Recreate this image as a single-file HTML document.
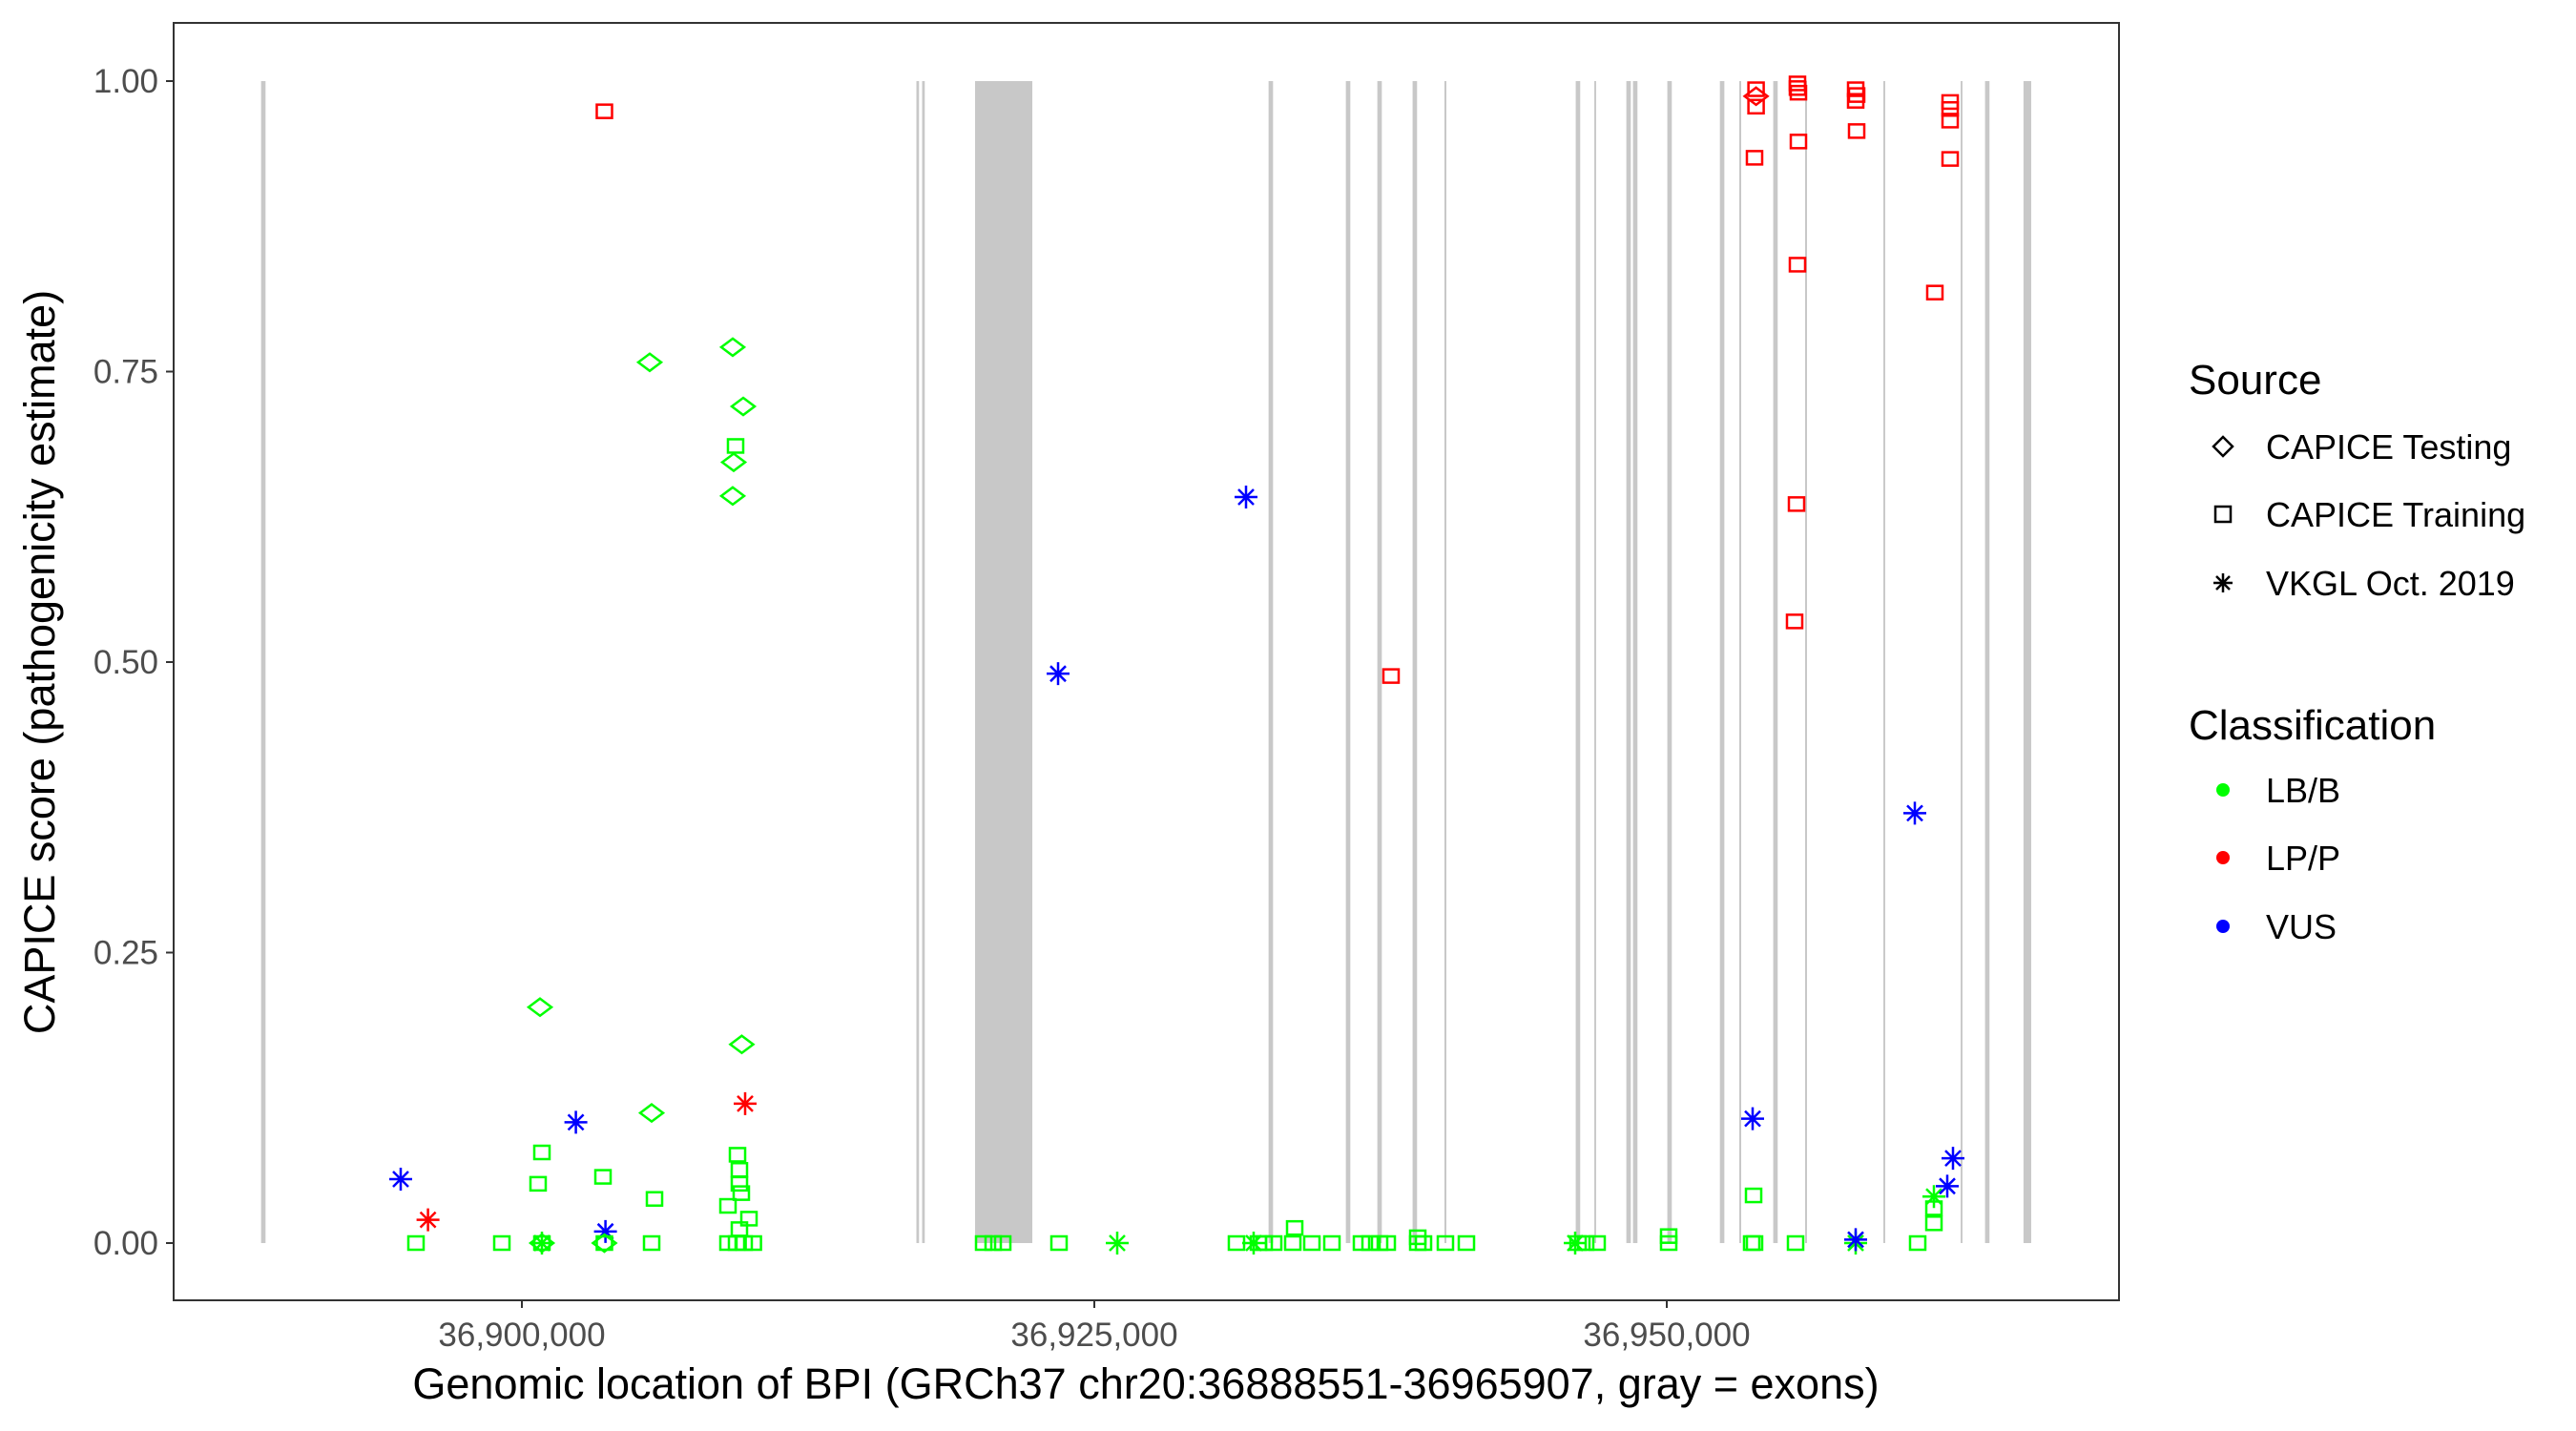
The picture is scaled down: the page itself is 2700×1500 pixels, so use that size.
<!DOCTYPE html>
<html><head><meta charset="utf-8"><style>
html,body{margin:0;padding:0;background:#fff;}
svg{display:block;font-family:"Liberation Sans",Arial,sans-serif;}
</style></head><body>
<svg id="chart" width="2700" height="1500" viewBox="0 0 2700 1500" xmlns="http://www.w3.org/2000/svg">
<rect x="0" y="0" width="2700" height="1500" fill="#fff"/>
<g id="exons"></g>
<g id="points"></g>
<rect x="182" y="24" width="2039" height="1339" fill="none" stroke="#333" stroke-width="2"/>
<g id="yaxis"></g>
<g id="xaxis"></g>
<text x="0" y="0" transform="translate(57,694) rotate(-90)" text-anchor="middle" font-size="45" fill="#000">CAPICE score (pathogenicity estimate)</text>
<text x="1201" y="1466" text-anchor="middle" font-size="45" fill="#000">Genomic location of BPI (GRCh37 chr20:36888551-36965907, gray = exons)</text>
<g>
<text x="2294" y="413" font-size="44" fill="#000">Source</text>
<g>
<path d="M2330 458 L2340 468 L2330 478 L2320 468 Z" fill="none" stroke="#000" stroke-width="2.5"/>
<text x="2375" y="481" font-size="36">CAPICE Testing</text></g>
<g>
<rect x="2322" y="531" width="16" height="16" fill="none" stroke="#000" stroke-width="2.5"/>
<text x="2375" y="552" font-size="36">CAPICE Training</text></g>
<g>
<path d="M2320 611 H2340 M2330 601 V621 M2323 604 L2337 618 M2337 604 L2323 618" stroke="#000" stroke-width="2.5"/>
<text x="2375" y="624" font-size="36">VKGL Oct. 2019</text></g>
<text x="2294" y="775" font-size="44" fill="#000">Classification</text>
<g><circle cx="2330" cy="828" r="7" fill="#00ff00"/><text x="2375" y="841" font-size="36">LB/B</text></g>
<g><circle cx="2330" cy="899" r="7" fill="#ff0000"/><text x="2375" y="912" font-size="36">LP/P</text></g>
<g><circle cx="2330" cy="971" r="7" fill="#0000ff"/><text x="2375" y="984" font-size="36">VUS</text></g>
</g>
</svg>
<script>
const exonStarts=[-11390,17230,17480,19792,32610,35985,37360,38900,40290,46025,46835,48235,48525,50025,52320,53165,54650,56040,59460,62835,63900,65580];
const exonEnds=[-11195,17345,17595,22292,32805,36180,37555,39095,40375,46220,46915,48430,48720,50220,52515,53250,54845,56125,59540,62915,64095,65915];
const yTicks=[0,0.25,0.5,0.75,1];
const yTickLabels=["0.00","0.25","0.50","0.75","1.00"];
const xTicks=[36900000,36925000,36950000];
const xTickLabels=["36,900,000","36,925,000","36,950,000"];
const posOffset=[3604,5583,9208,9667,9333,9250,9208,792,9604,9750,2358,5667,875,708,3542,5792,9417,9500,9500,9583,9000,9917,9500,-5292,-4100,3650,
-4625,-875,875,875,875,3604,3604,5667,9000,9375,9708,10108,
20167,20583,21000,23458,26000,23417,31625,37958,
31208,31958,32167,32417,32833,33667,33750,34500,35375,36667,37042,37458,37792,39125,39125,39375,40333,41250,
46000,46125,46458,46958,50083,50083,53708,53833,53792,55625,58250,58250,60958,61667,61667,61667,
53750,62500,62250,60833,
53900,53900,53900,53833,55708,55708,55750,55750,55708,55667,55583,58250,58292,58250,58292,62375,62375,62375,62375,61708];
const scores=[0.974,0.758,0.771,0.72,0.686,0.672,0.643,0.203,0.171,0.12,0.104,0.112,0.078,0.051,0.057,0.038,0.076,0.063,0.051,0.043,0.032,0.021,0.012,0.055,0.02,0.01,
0,0,0,0,0,0,0,0,0,0,0,0,
0,0,0,0,0,0.49,0.642,0.488,
0,0,0,0,0,0,0.013,0,0,0,0,0,0,0,0.005,0,0,0,
0,0,0,0,0,0.006,0,0,0.041,0,0,0.003,0,0.04,0.03,0.017,
0.107,0.073,0.049,0.37,
0.987,0.993,0.978,0.934,0.998,0.994,0.99,0.948,0.842,0.636,0.535,0.993,0.988,0.983,0.957,0.982,0.976,0.966,0.933,0.818];
const sources=["R","T","T","T","R","T","T","T","T","V","V","T","R","R","R","R","R","R","R","R","R","R","R","V","V","V",
"R","R","R","V","T","T","R","R","R","R","R","R",
"R","R","R","R","V","V","V","R",
"R","V","R","R","R","R","R","R","R","R","R","R","R","R","R","R","R","R",
"V","R","R","R","R","R","R","R","R","R","V","V","R","V","R","R",
"V","V","V","V",
"T","R","R","R","R","R","R","R","R","R","R","R","R","R","R","R","R","R","R","R"];
const classes=["P","B","B","B","B","B","B","B","B","P","V","B","B","B","B","B","B","B","B","B","B","B","B","V","P","V",
"B","B","B","B","B","B","B","B","B","B","B","B",
"B","B","B","B","B","V","V","P",
"B","B","B","B","B","B","B","B","B","B","B","B","B","B","B","B","B","B",
"B","B","B","B","B","B","B","B","B","B","B","V","B","B","B","B",
"V","V","V","V",
"P","P","P","P","P","P","P","P","P","P","P","P","P","P","P","P","P","P","P","P"];
const BASE=36900000;
const NS="http://www.w3.org/2000/svg";
function xScale(v){return 547+(v-BASE)*0.024;}
function yScale(s){return 1303-s*1218;}
const colorMap={B:"#00ff00",P:"#ff0000",V:"#0000ff"};
function mk(tag,attrs,parent){const e=document.createElementNS(NS,tag);for(const k in attrs)e.setAttribute(k,attrs[k]);parent.appendChild(e);return e;}
const ex=document.getElementById('exons');
for(let i=0;i<exonStarts.length;i++){
  const x0=xScale(BASE+exonStarts[i]),x1=xScale(BASE+exonEnds[i]);
  const r=mk('rect',{x:x0,y:yScale(1),width:Math.max(x1-x0,1.5),height:yScale(0)-yScale(1),fill:'#c8c8c8'},ex);
  
  
}
const ya=document.getElementById('yaxis');
for(let i=0;i<yTicks.length;i++){
  const y=yScale(yTicks[i]);
  mk('line',{x1:174,x2:182,y1:y,y2:y,stroke:'#333','stroke-width':2},ya);
  const t=mk('text',{x:166,y:y+12,'text-anchor':'end','font-size':35,fill:'#4d4d4d'},ya);
  t.textContent=yTickLabels[i];
  
  
}
const xa=document.getElementById('xaxis');
for(let i=0;i<xTicks.length;i++){
  const x=xScale(xTicks[i]);
  mk('line',{x1:x,x2:x,y1:1363,y2:1371,stroke:'#333','stroke-width':2},xa);
  const t=mk('text',{x:x,y:1411,'text-anchor':'middle','font-size':35,fill:'#4d4d4d'},xa);
  t.textContent=xTickLabels[i];
  
  
}
const pg=document.getElementById('points');
for(let i=0;i<posOffset.length;i++){
  const x=xScale(BASE+posOffset[i]),y=yScale(scores[i]),c=colorMap[classes[i]];
  let e;
  if(sources[i]==="R"){
    e=mk('rect',{x:x-8,y:y-7,width:16,height:14,fill:'none',stroke:c,'stroke-width':2.5},pg);
  }else if(sources[i]==="T"){
    e=mk('path',{d:`M${x} ${y-9} L${x+12} ${y} L${x} ${y+9} L${x-12} ${y} Z`,fill:'none',stroke:c,'stroke-width':2.5},pg);
  }else{
    e=mk('path',{d:`M${x-12} ${y} H${x+12} M${x} ${y-12} V${y+12} M${x-8} ${y-8} L${x+8} ${y+8} M${x+8} ${y-8} L${x-8} ${y+8}`,fill:'none',stroke:c,'stroke-width':2.5},pg);
  }
  
  
}
</script>
</body></html>
